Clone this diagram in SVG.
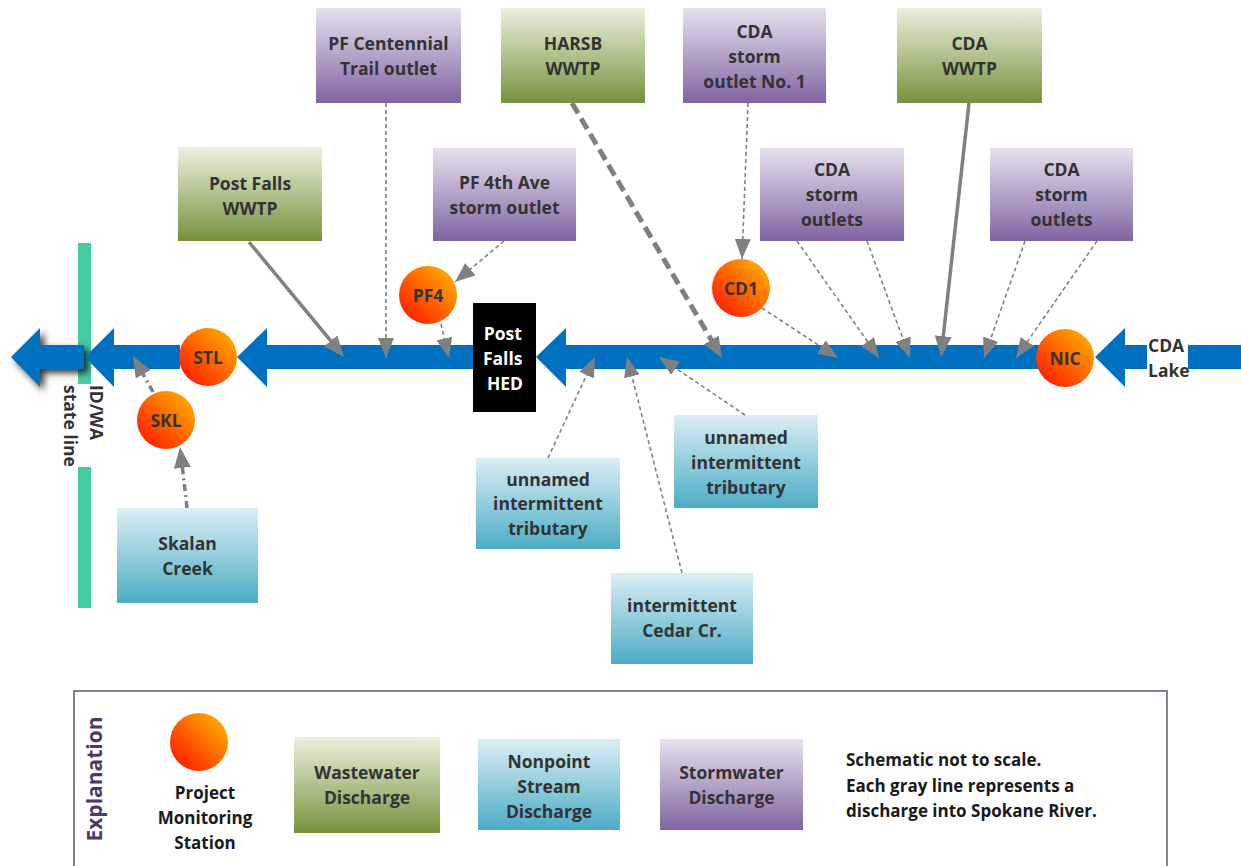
<svg xmlns="http://www.w3.org/2000/svg" width="1241" height="866" viewBox="0 0 1241 866">
  <defs>
    <linearGradient id="gWaste" x1="0" y1="0" x2="0" y2="1">
      <stop offset="0" stop-color="#EBF1DE"/>
      <stop offset="1" stop-color="#76923C"/>
    </linearGradient>
    <linearGradient id="gStorm" x1="0" y1="0" x2="0" y2="1">
      <stop offset="0" stop-color="#E7E1EE"/>
      <stop offset="1" stop-color="#8064A2"/>
    </linearGradient>
    <linearGradient id="gStream" x1="0" y1="0" x2="0" y2="1">
      <stop offset="0" stop-color="#DCEEF4"/>
      <stop offset="1" stop-color="#4BACC6"/>
    </linearGradient>
    <linearGradient id="gStation" x1="0.85" y1="0.15" x2="0.15" y2="0.85">
      <stop offset="0" stop-color="#FFA400"/>
      <stop offset="1" stop-color="#FF2600"/>
    </linearGradient>
    <filter id="shadow" x="-30%" y="-60%" width="160%" height="220%">
      <feDropShadow dx="4" dy="4" stdDeviation="3.5" flood-color="#000" flood-opacity="0.8"/>
    </filter>
    <!-- arrowhead whose tip sits on the line end (thin lines) -->
    <marker id="arr" viewBox="0 0 20 16" refX="20" refY="8" markerWidth="20" markerHeight="16" markerUnits="userSpaceOnUse" orient="auto">
      <path d="M0,0 L20,8 L0,16 z" fill="#808080"/>
    </marker>
    <!-- arrowhead reaching 12px past the line end (thick lines) -->
    <marker id="arrT" viewBox="0 0 21 17" refX="9" refY="8.5" markerWidth="21" markerHeight="17" markerUnits="userSpaceOnUse" orient="auto">
      <path d="M0,0 L21,8.5 L0,17 z" fill="#808080"/>
    </marker>
    <style>
      .txt { font-family: "Open Sans", "Liberation Sans", sans-serif; font-weight: 700; font-size: 17.5px; fill: #333333; text-anchor: middle; }
      .lgd { font-family: "Open Sans", "Liberation Sans", sans-serif; font-weight: 700; font-size: 17px; fill: #1a1a1a; }
      .waste { fill: url(#gWaste); }
      .storm { fill: url(#gStorm); }
      .stream { fill: url(#gStream); }
      .station { fill: url(#gStation); }
      .river { fill: #0070C0; }
      .thin { fill: none; stroke: #808080; stroke-width: 1.6; stroke-dasharray: 4 3; marker-end: url(#arr); }
      .solid { fill: none; stroke: #808080; stroke-width: 3.5; marker-end: url(#arrT); }
      .thickdash { fill: none; stroke: #808080; stroke-width: 5; stroke-dasharray: 12 6; marker-end: url(#arrT); }
      .dashdot { fill: none; stroke: #808080; stroke-width: 3.5; stroke-dasharray: 7 4 2 4; marker-end: url(#arrT); }
    </style>
  </defs>

  <rect width="1241" height="866" fill="#ffffff"/>

  <!-- ID/WA state line -->
  <g id="state-line">
    <rect x="78" y="243" width="13" height="141" fill="#44CDA0"/>
    <rect x="78" y="467" width="13" height="141" fill="#44CDA0"/>
    <text class="txt" transform="translate(90,385) rotate(90)" style="text-anchor:start">
      <tspan x="0" y="0">ID/WA</tspan>
      <tspan x="0" y="26">state line</tspan>
    </text>
  </g>

  <!-- Spokane River, flowing west -->
  <g id="river">
    <path class="river" filter="url(#shadow)" d="M11,357 L40,328 L40,345 L84,345 L84,369 L40,369 L40,387 Z"/>
    <path class="river" d="M85,357 L114,328 L114,345 L180,345 L180,369 L114,369 L114,387 Z"/>
    <path class="river" d="M237,357 L267,328 L267,345 L474,345 L474,369 L267,369 L267,387 Z"/>
    <path class="river" d="M536,357 L566,328 L566,345 L1040,345 L1040,369 L566,369 L566,387 Z"/>
    <path class="river" d="M1095,357 L1125,328 L1125,345 L1241,345 L1241,369 L1125,369 L1125,387 Z"/>
  </g>

  <g id="cda-lake">
    <rect x="1147" y="338" width="41" height="40" fill="#ffffff"/>
    <text class="txt" style="text-anchor:start">
      <tspan x="1148" y="352">CDA</tspan>
      <tspan x="1148" y="377">Lake</tspan>
    </text>
  </g>

  <g id="post-falls-hed">
    <rect x="473" y="303" width="63" height="109" fill="#000000"/>
    <text class="txt" style="fill:#ffffff">
      <tspan x="505" y="340">Post</tspan>
      <tspan x="505" y="365">Falls</tspan>
      <tspan x="505" y="390">HED</tspan>
    </text>
  </g>

  <!-- Discharge sources -->
  <g id="post-falls-wwtp">
    <rect class="waste" x="178" y="147" width="144" height="94"/>
    <text class="txt"><tspan x="250" y="190">Post Falls</tspan><tspan x="250" y="215">WWTP</tspan></text>
  </g>
  <g id="pf-centennial">
    <rect class="storm" x="316" y="8" width="145" height="95"/>
    <text class="txt"><tspan x="388.5" y="50">PF Centennial</tspan><tspan x="388.5" y="75">Trail outlet</tspan></text>
  </g>
  <g id="harsb-wwtp">
    <rect class="waste" x="501" y="8" width="144" height="95"/>
    <text class="txt"><tspan x="573" y="50">HARSB</tspan><tspan x="573" y="75">WWTP</tspan></text>
  </g>
  <g id="cda-storm-no1">
    <rect class="storm" x="683" y="8" width="143" height="95"/>
    <text class="txt"><tspan x="754.5" y="37.5">CDA</tspan><tspan x="754.5" y="62.5">storm</tspan><tspan x="754.5" y="87.5">outlet No. 1</tspan></text>
  </g>
  <g id="cda-wwtp">
    <rect class="waste" x="897" y="8" width="145" height="95"/>
    <text class="txt"><tspan x="969.5" y="50">CDA</tspan><tspan x="969.5" y="75">WWTP</tspan></text>
  </g>
  <g id="pf-4th-ave">
    <rect class="storm" x="433" y="148" width="143" height="93"/>
    <text class="txt"><tspan x="504.5" y="189">PF 4th Ave</tspan><tspan x="504.5" y="214">storm outlet</tspan></text>
  </g>
  <g id="cda-storm-a">
    <rect class="storm" x="760" y="148" width="144" height="93"/>
    <text class="txt"><tspan x="832" y="176">CDA</tspan><tspan x="832" y="201">storm</tspan><tspan x="832" y="226">outlets</tspan></text>
  </g>
  <g id="cda-storm-b">
    <rect class="storm" x="990" y="148" width="143" height="93"/>
    <text class="txt"><tspan x="1061.5" y="176">CDA</tspan><tspan x="1061.5" y="201">storm</tspan><tspan x="1061.5" y="226">outlets</tspan></text>
  </g>
  <g id="skalan-creek">
    <rect class="stream" x="117" y="508" width="141" height="95"/>
    <text class="txt"><tspan x="187.5" y="550">Skalan</tspan><tspan x="187.5" y="575">Creek</tspan></text>
  </g>
  <g id="unnamed-trib-a">
    <rect class="stream" x="476" y="458" width="144" height="91"/>
    <text class="txt"><tspan x="548" y="486">unnamed</tspan><tspan x="548" y="510">intermittent</tspan><tspan x="548" y="535">tributary</tspan></text>
  </g>
  <g id="unnamed-trib-b">
    <rect class="stream" x="674" y="415" width="144" height="93"/>
    <text class="txt"><tspan x="746" y="444">unnamed</tspan><tspan x="746" y="469">intermittent</tspan><tspan x="746" y="494">tributary</tspan></text>
  </g>
  <g id="cedar-creek">
    <rect class="stream" x="611" y="573" width="142" height="91"/>
    <text class="txt"><tspan x="682" y="612">intermittent</tspan><tspan x="682" y="637">Cedar Cr.</tspan></text>
  </g>

  <!-- Connectors -->
  <g id="connectors">
    <line class="solid" x1="249" y1="242" x2="336.4" y2="347.7"/>
    <line class="thin" x1="386" y1="103" x2="386" y2="358"/>
    <line class="thin" x1="504" y1="241" x2="455" y2="282"/>
    <line class="thin" x1="441" y1="324" x2="449" y2="358"/>
    <line class="thickdash" x1="572" y1="103" x2="715.9" y2="347.7"/>
    <line class="thin" x1="748" y1="103" x2="742" y2="259"/>
    <line class="thin" x1="762" y1="308" x2="838" y2="358"/>
    <line class="thin" x1="797" y1="241" x2="879" y2="358"/>
    <line class="thin" x1="867" y1="241" x2="910" y2="358"/>
    <line class="solid" x1="969" y1="103" x2="942.3" y2="345.1"/>
    <line class="thin" x1="1025" y1="241" x2="984" y2="358"/>
    <line class="thin" x1="1097" y1="241" x2="1016" y2="358"/>
    <line class="dashdot" x1="153" y1="392" x2="138.8" y2="366.5"/>
    <line class="dashdot" x1="187" y1="508" x2="181.4" y2="458.9"/>
    <line class="thin" x1="548" y1="458" x2="595" y2="357"/>
    <line class="thin" x1="682" y1="573" x2="627" y2="357"/>
    <line class="thin" x1="745" y1="415" x2="659" y2="357"/>
  </g>

  <!-- Monitoring stations -->
  <g id="station-stl">
    <circle class="station" cx="208" cy="357" r="29"/>
    <text class="txt" x="208" y="363.5">STL</text>
  </g>
  <g id="station-skl">
    <circle class="station" cx="166" cy="420" r="29"/>
    <text class="txt" x="166" y="426.5">SKL</text>
  </g>
  <g id="station-pf4">
    <circle class="station" cx="428" cy="295" r="29"/>
    <text class="txt" x="428" y="301.5">PF4</text>
  </g>
  <g id="station-cd1">
    <circle class="station" cx="741" cy="288" r="29"/>
    <text class="txt" x="741" y="294.5">CD1</text>
  </g>
  <g id="station-nic">
    <circle class="station" cx="1065" cy="358" r="29"/>
    <text class="txt" x="1065" y="364.5">NIC</text>
  </g>

  <!-- Explanation -->
  <g id="legend">
    <rect x="74" y="691" width="1093" height="200" fill="none" stroke="#5E586C" stroke-width="1.5"/>
    <text class="txt" transform="translate(102,779) rotate(-90)" style="font-size:21px;fill:#4A3B66">Explanation</text>
    <circle class="station" cx="199" cy="742" r="29"/>
    <text class="lgd" style="text-anchor:middle"><tspan x="205" y="799">Project</tspan><tspan x="205" y="824">Monitoring</tspan><tspan x="205" y="849">Station</tspan></text>
    <rect class="waste" x="294" y="737" width="146" height="96"/>
    <text class="txt"><tspan x="367" y="779">Wastewater</tspan><tspan x="367" y="804">Discharge</tspan></text>
    <rect class="stream" x="478" y="739" width="142" height="91"/>
    <text class="txt"><tspan x="549" y="768">Nonpoint</tspan><tspan x="549" y="793">Stream</tspan><tspan x="549" y="818">Discharge</tspan></text>
    <rect class="storm" x="660" y="739" width="143" height="91"/>
    <text class="txt"><tspan x="731.5" y="779">Stormwater</tspan><tspan x="731.5" y="804">Discharge</tspan></text>
    <text class="lgd"><tspan x="846" y="766">Schematic not to scale.</tspan><tspan x="846" y="792">Each gray line represents a</tspan><tspan x="846" y="817">discharge into Spokane River.</tspan></text>
  </g>
</svg>
